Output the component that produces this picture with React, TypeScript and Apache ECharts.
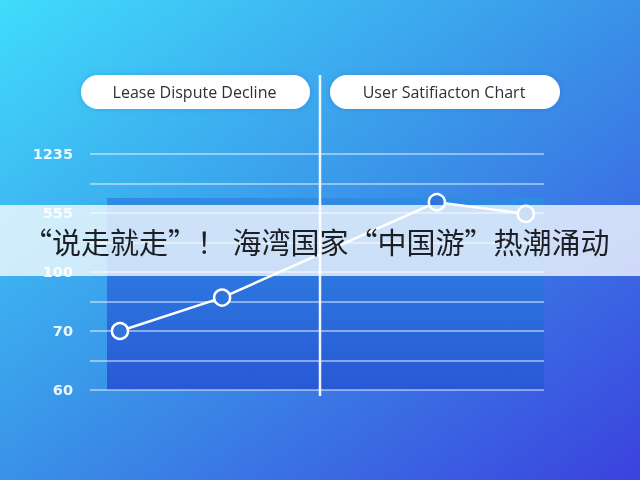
import * as echarts from 'echarts';
import { useEffect, useRef } from 'react';

// axis tick labels (unevenly spaced values, evenly spaced on screen)
const yTickLabels = [60, 70, 100, 555, 1235];
const xValues = [6.6, 29.1, 76.4, 96];
const seriesValues = [70, 87, 680, 548];
const pillLabels = ['Lease Dispute Decline', 'User Satifiacton Chart'];
const headline = '“说走就走”！ 海湾国家“中国游”热潮涌动';

// map a value onto the piecewise scale: each labelled tick is 2 steps apart
function toLevel(v: number): number {
  for (let i = 0; i < yTickLabels.length - 1; i++) {
    const a = yTickLabels[i];
    const b = yTickLabels[i + 1];
    if (v >= a && v <= b) return 2 * i + (2 * (v - a)) / (b - a);
  }
  return v < yTickLabels[0] ? 0 : 2 * (yTickLabels.length - 1);
}

const App = () => {
  const chartRef = useRef<HTMLDivElement>(null);

  useEffect(() => {
    if (!chartRef.current) return;
    const chart = echarts.init(chartRef.current, null, { renderer: 'svg' });

    const data = seriesValues.map((v, i) => [xValues[i], toLevel(v)]);

    const pill = (x: number, w: number, text: string) => ({
      type: 'group',
      z: 50,
      children: [
        {
          type: 'rect',
          shape: { x, y: 75, width: w, height: 34, r: 17 },
          style: { fill: '#ffffff', shadowBlur: 6, shadowColor: 'rgba(0,40,120,0.15)' },
          z: 50,
        },
        {
          type: 'text',
          x: x + w / 2 - 1,
          y: 92,
          style: {
            text,
            fill: '#2c3139',
            font: '16px "Open Sans"',
            textAlign: 'center',
            textVerticalAlign: 'middle',
          },
          z: 51,
        },
      ],
    });

    const option: echarts.EChartsOption = {
      animation: false,
      title: {
        text: headline,
        left: 18,
        top: 221,
        z: 60,
        textStyle: {
          fontFamily: '"Noto Sans CJK SC"',
          fontSize: 29,
          fontWeight: 'normal',
          color: '#1c1f24',
        },
      },
      grid: { left: 90, right: 96, top: 154, bottom: 90 },
      xAxis: {
        type: 'value',
        min: 0,
        max: 100,
        show: false,
      },
      yAxis: {
        type: 'value',
        min: 0,
        max: 8,
        interval: 1,
        axisLine: { show: false },
        axisTick: { show: false },
        axisLabel: {
          margin: 17,
          color: 'rgba(255,255,255,0.9)',
          fontFamily: '"DejaVu Sans"',
          fontWeight: 'bold',
          fontSize: 14.5,
          formatter: (val: number) => (val % 2 === 0 ? String(yTickLabels[val / 2]) : ''),
        },
        splitLine: { lineStyle: { color: 'rgba(255,255,255,0.6)', width: 1.5 } },
      },
      graphic: [
        {
          type: 'rect',
          z: -10,
          shape: { x: 0, y: 0, width: 640, height: 480 },
          style: {
            fill: new echarts.graphic.LinearGradient(0, 0, 1, 1, [
              { offset: 0, color: '#40dcfb' },
              { offset: 0.5, color: '#3a92e8' },
              { offset: 1, color: '#3b42de' },
            ]),
          },
        },
        {
          type: 'rect',
          z: -5,
          shape: { x: 107, y: 198, width: 437, height: 192 },
          style: {
            fill: new echarts.graphic.LinearGradient(0, 0, 0, 1, [
              { offset: 0, color: '#2f8be4' },
              { offset: 1, color: '#2958d6' },
            ]),
          },
        },
        {
          type: 'line',
          z: 5,
          shape: { x1: 320, y1: 75, x2: 320, y2: 396 },
          style: { stroke: 'rgba(255,255,255,0.92)', lineWidth: 2.5 },
        },
        {
          type: 'rect',
          z: 40,
          shape: { x: 0, y: 205, width: 640, height: 71 },
          style: { fill: 'rgba(255,255,255,0.76)' },
        },
        pill(81, 229, pillLabels[0]),
        pill(330, 230, pillLabels[1]),
      ],
      series: [
        {
          type: 'line',
          data,
          z: 10,
          symbol: 'circle',
          symbolSize: 16,
          lineStyle: { color: '#ffffff', width: 2.5 },
          itemStyle: { color: '#2e74dc', borderColor: '#ffffff', borderWidth: 2.5 },
        },
      ],
    };

    chart.setOption(option);
    return () => {
      chart.dispose();
    };
  }, []);

  return (
    <div
      ref={chartRef}
      style={{ position: 'fixed', left: 0, top: 0, width: 640, height: 480 }}
    />
  );
};

export default App;
